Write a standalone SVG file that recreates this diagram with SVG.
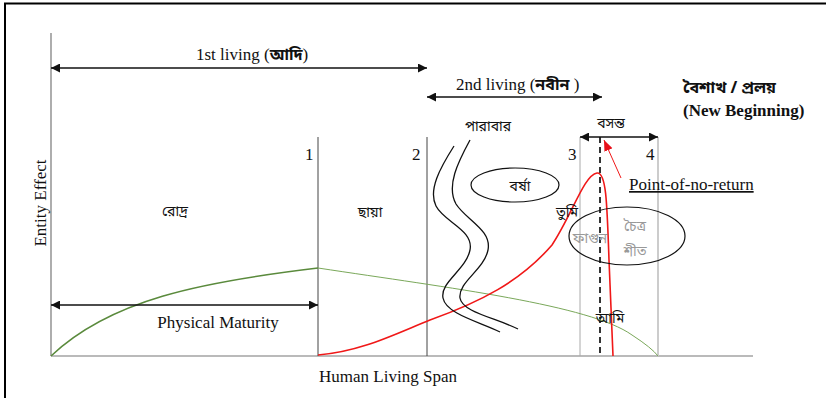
<svg xmlns="http://www.w3.org/2000/svg" width="826" height="398" viewBox="0 0 826 398">
<style>
.en{font-family:"Liberation Serif","Times New Roman",serif;fill:#111;font-size:17px}
.bn{font-family:"Noto Sans Bengali","Noto Serif Bengali","Lohit Bengali","Vrinda",sans-serif;fill:#111;font-size:14px}
.bnb{font-family:"Noto Sans Bengali","Noto Serif Bengali","Lohit Bengali",sans-serif;font-weight:bold;fill:#111;font-size:16px}
.gr{fill:#999}
.arr{stroke:#111;stroke-width:1.5;fill:none;marker-start:url(#ah);marker-end:url(#ah)}
.vline{stroke:#444;stroke-width:1;fill:none}
.wave{stroke:#111;stroke-width:1.3;fill:none}
</style>
<defs>
<marker id="ah" viewBox="0 0 10 10" refX="10" refY="5" markerWidth="9" markerHeight="9" markerUnits="userSpaceOnUse" orient="auto-start-reverse">
<path d="M0,0 L10,5 L0,10 z" fill="#111"/>
</marker>
<marker id="rah" viewBox="0 0 10 10" refX="10" refY="5" markerWidth="11" markerHeight="11" markerUnits="userSpaceOnUse" orient="auto">
<path d="M0,1 L10,5 L0,9 z" fill="#e8101a"/>
</marker>
</defs>
<rect width="826" height="398" fill="#fff"/>
<g id="frame" stroke="#000" stroke-width="2" fill="none">
<line x1="4" y1="3.5" x2="826" y2="3.5"/>
<line x1="5" y1="3" x2="5" y2="398"/>
</g>
<g id="axes" stroke="#777" stroke-width="1.2" fill="none">
<line x1="51" y1="33" x2="51" y2="356"/>
<line x1="51" y1="356" x2="753" y2="356"/>
</g>
<g id="dividers">
<line class="vline" x1="318" y1="137" x2="318" y2="356"/>
<line class="vline" x1="427" y1="137" x2="427" y2="356"/>
<line x1="580" y1="137" x2="580" y2="356" stroke="#aaa" stroke-width="1"/>
<line x1="658" y1="137" x2="658" y2="356" stroke="#ccc" stroke-width="2"/>
<line x1="600" y1="137" x2="600" y2="356" stroke="#333" stroke-width="2" stroke-dasharray="6,4"/>
</g>
<g id="curves" fill="none">
<path d="M51,356 C110,300 200,282 318,268" stroke="#5a8a3c" stroke-width="1.6"/>
<path d="M318,268 C450,288 590,305 632,335 Q652,348 658,356" stroke="#7aa85a" stroke-width="1"/>
<path d="M318,355 C360,352 395,334 430,320 C480,302 520,282 552,245 C572,215 584,175 597,173 C606,172 607,200 609,260 L613,356" stroke="#f01818" stroke-width="1.6"/>
<path class="wave" d="M454,146 C440,168 428,190 436,206 C444,222 474,230 470,250 C466,270 440,282 443,298 C446,314 480,322 500,332"/>
<path class="wave" d="M470,140 C458,162 446,186 456,204 C466,220 492,230 488,250 C484,270 458,282 460,298 C462,312 496,318 518,329"/>
</g>
<g id="ellipses" fill="none" stroke="#111" stroke-width="1.2">
<ellipse cx="515" cy="185" rx="44" ry="17"/>
<ellipse cx="627" cy="236" rx="58" ry="29"/>
</g>
<g id="connectors">
<line class="arr" x1="51" y1="68" x2="427" y2="68"/>
<line class="arr" x1="427" y1="97" x2="602" y2="97"/>
<line class="arr" x1="580" y1="137" x2="658" y2="137"/>
<line class="arr" x1="51" y1="305" x2="318" y2="305"/>
<line x1="621" y1="178" x2="604" y2="140" stroke="#f01818" stroke-width="1" marker-end="url(#rah)"/>
</g>
<g id="labels">
<text class="en" x="196" y="60">1st living (<tspan class="bnb" font-size="14">আদি</tspan>)</text>
<text class="en" x="456" y="90">2nd living (<tspan class="bnb" font-size="14">নবীন</tspan> )</text>
<text class="bnb" x="683" y="93">বৈশাখ / প্রলয়</text>
<text class="en" x="683" y="116" font-weight="bold">(New Beginning)</text>
<text class="bn" x="488" y="131" text-anchor="middle">পারাবার</text>
<text class="bn" x="611" y="128" text-anchor="middle">বসন্ত</text>
<text class="en" x="305" y="160">1</text>
<text class="en" x="412" y="160">2</text>
<text class="en" x="568" y="160">3</text>
<text class="en" x="646" y="160">4</text>
<text class="en" x="629" y="190" text-decoration="underline">Point-of-no-return</text>
<text class="bn" x="520" y="191" text-anchor="middle">বর্ষা</text>
<text class="bn" x="175" y="216" text-anchor="middle">রোদ্র</text>
<text class="bn" x="370" y="217" text-anchor="middle">ছায়া</text>
<text class="bn" x="567" y="217" text-anchor="middle" font-size="12">তুমি</text>
<text class="bn gr" x="590" y="243" text-anchor="middle">ফাগুন</text>
<text class="bn gr" x="635" y="231" text-anchor="middle">চৈত্র</text>
<text class="bn gr" x="635" y="256" text-anchor="middle">শীত</text>
<text class="en" x="218" y="328" text-anchor="middle">Physical Maturity</text>
<text class="bn" x="610" y="323" text-anchor="middle" font-size="12">আমি</text>
<text class="en" x="388" y="382" text-anchor="middle">Human Living Span</text>
<text class="en" transform="translate(46,203) rotate(-90)" text-anchor="middle" font-size="16">Entity Effect</text>
</g>
</svg>
